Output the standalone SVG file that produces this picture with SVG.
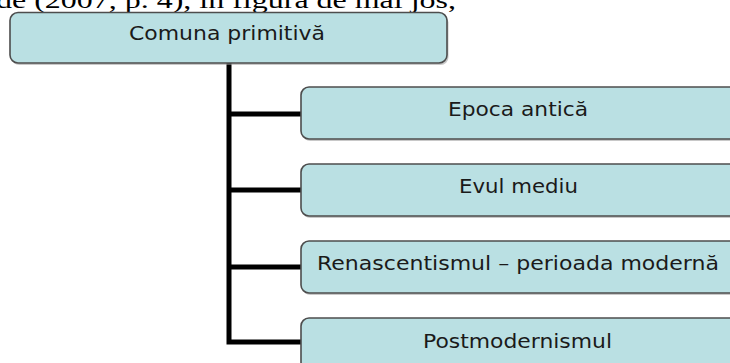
<svg xmlns="http://www.w3.org/2000/svg" width="730" height="363" viewBox="0 0 730 363">
  <style>
    .box { fill: #bae0e3; stroke: #4d4d4d; stroke-width: 1.6; }
    .shadow { fill: #9a9a9a; opacity: 0.55; }
    .lbl { font-family: "DejaVu Sans", Verdana, sans-serif; font-size: 19px; fill: #1a1a1a; text-anchor: start; }
    .conn { fill: none; stroke: #000; stroke-width: 5; stroke-linejoin: miter; stroke-linecap: butt; }
    .page { font-family: "Liberation Serif", "Times New Roman", serif; font-size: 24px; fill: #000; }
  </style>
  <rect width="730" height="363" fill="#ffffff"/>
  <text class="page" x="-4" y="8" textLength="460" lengthAdjust="spacingAndGlyphs">de (2007, p. 4), în figura de mai jos,</text>

  <g id="connectors">
    <path class="conn" d="M229,63 V342 H301"/>
    <path class="conn" d="M229,114 H301"/>
    <path class="conn" d="M229,190 H301"/>
    <path class="conn" d="M229,267 H301"/>
  </g>

  <g id="node-comuna">
    <rect class="shadow" x="11.5" y="14.5" width="437" height="50.5" rx="8"/>
    <rect class="box" x="10" y="12.5" width="437" height="50.5" rx="8"/>
    <text class="lbl" x="129" y="40" textLength="196" lengthAdjust="spacingAndGlyphs">Comuna primitivă</text>
  </g>

  <g id="node-epoca">
    <rect class="shadow" x="302.5" y="89" width="440" height="52" rx="8"/>
    <rect class="box" x="301" y="87" width="440" height="52" rx="8"/>
    <text class="lbl" x="448" y="115.5" textLength="140" lengthAdjust="spacingAndGlyphs">Epoca antică</text>
  </g>

  <g id="node-evul">
    <rect class="shadow" x="302.5" y="166" width="440" height="52" rx="8"/>
    <rect class="box" x="301" y="164" width="440" height="52" rx="8"/>
    <text class="lbl" x="459" y="192.5" textLength="119" lengthAdjust="spacingAndGlyphs">Evul mediu</text>
  </g>

  <g id="node-renascentism">
    <rect class="shadow" x="302.5" y="243" width="440" height="52" rx="8"/>
    <rect class="box" x="301" y="241" width="440" height="52" rx="8"/>
    <text class="lbl" x="317" y="270" textLength="402" lengthAdjust="spacingAndGlyphs">Renascentismul – perioada modernă</text>
  </g>

  <g id="node-postmodernism">
    <rect class="shadow" x="302.5" y="320" width="440" height="52" rx="8"/>
    <rect class="box" x="301" y="318" width="440" height="52" rx="8"/>
    <text class="lbl" x="423" y="347.5" textLength="189" lengthAdjust="spacingAndGlyphs">Postmodernismul</text>
  </g>
</svg>
